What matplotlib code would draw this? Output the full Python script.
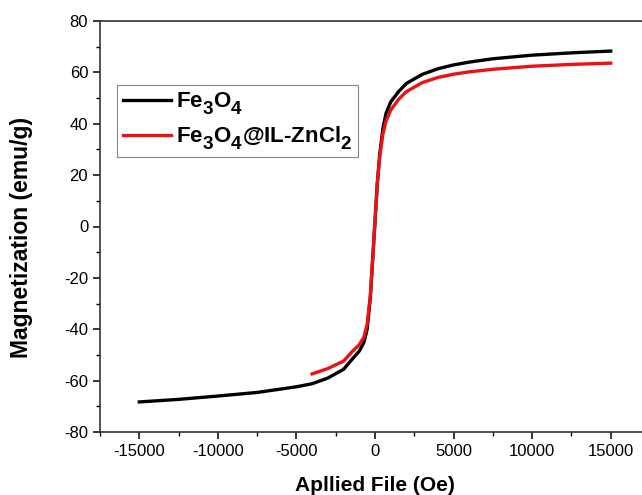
import matplotlib
matplotlib.use('Agg')
import matplotlib.pyplot as plt
import matplotlib._mathtext as mathtext_internal
from matplotlib.ticker import MultipleLocator

plt.rcParams['font.family'] = ['Liberation Sans', 'DejaVu Sans']
plt.rcParams['axes.unicode_minus'] = False
plt.rcParams['mathtext.fontset'] = 'custom'
plt.rcParams['mathtext.bf'] = 'Liberation Sans:bold'
plt.rcParams['mathtext.rm'] = 'Liberation Sans:bold'
plt.rcParams['mathtext.default'] = 'bf'
# subscripts in the original are nearly full size and sit low
mathtext_internal.SHRINK_FACTOR = 0.85
mathtext_internal.FontConstantsBase.sub1 = 0.6

## Data

h_fe3o4 = [-15000, -12500, -10000, -7500, -5000, -4000, -3000, -2000, -1500, -1000,
           -700, -500, -300, -150, 0, 150, 300, 500, 700, 1000,
           1500, 2000, 3000, 4000, 5000, 6000, 7500, 10000, 12500, 15000]
m_fe3o4 = [-68.3, -67.3, -66.0, -64.6, -62.4, -61.2, -59.0, -55.6, -52.0, -48.5,
           -45.0, -40.0, -28.0, -13.0, 2.0, 17.0, 28.0, 38.0, 44.0, 48.5,
           52.5, 55.7, 59.2, 61.4, 62.9, 64.0, 65.3, 66.7, 67.6, 68.3]

h_zncl = [-4000, -3000, -2000, -1500, -1000, -700, -500, -300, -150, 0,
          150, 300, 500, 700, 1000, 1500, 2000, 3000, 4000, 5000,
          6000, 7500, 10000, 12500, 15000]
m_zncl = [-57.4, -55.3, -52.4, -49.0, -46.0, -43.0, -38.0, -27.0, -13.0, 2.0,
          17.0, 27.0, 36.0, 41.0, 45.3, 49.5, 52.5, 56.0, 58.0, 59.3,
          60.2, 61.2, 62.4, 63.1, 63.6]

x_ticks = [-15000, -10000, -5000, 0, 5000, 10000, 15000]
y_ticks = [-80, -60, -40, -20, 0, 20, 40, 60, 80]

## Plot

fig = plt.figure(figsize=(6.42, 4.95), dpi=100)
ax = fig.add_axes([100 / 642, 63 / 495, 550 / 642, 411 / 495])

ax.plot(h_fe3o4, m_fe3o4, color='black', lw=2.4, label=r'Fe$_3$O$_4$')
ax.plot(h_zncl, m_zncl, color='#ee1111', lw=2.4, label=r'Fe$_3$O$_4$@IL-ZnCl$_2$')

ax.set_xlim(-17500, 17500)
ax.set_ylim(-80, 80)
ax.set_xticks(x_ticks)
ax.set_yticks(y_ticks)
ax.xaxis.set_minor_locator(MultipleLocator(2500))
ax.yaxis.set_minor_locator(MultipleLocator(10))
ax.tick_params(which='major', direction='out', length=5, width=1.1, labelsize=12)
ax.tick_params(which='minor', direction='out', length=3, width=1.0)

for side in ['left', 'bottom', 'top']:
    ax.spines[side].set_linewidth(1.2)
    ax.spines[side].set_color('#333333')
ax.spines['right'].set_visible(False)

ax.set_xlabel('Apllied File (Oe)', fontsize=15, fontweight='bold')
ax.set_ylabel('Magnetization (emu/g)', fontsize=16.5, fontweight='bold')
ax.xaxis.set_label_coords(0.5, -0.107)
ax.yaxis.set_label_coords(-0.122, 0.474)

leg = ax.legend(loc='upper left', bbox_to_anchor=(0.031, 0.844), borderaxespad=0,
                prop={'size': 16, 'weight': 'bold'}, fancybox=False, framealpha=1,
                handlelength=2.2, handletextpad=0.2, labelspacing=0.35, borderpad=0.25)
leg.get_frame().set_edgecolor('#888888')
leg.get_frame().set_linewidth(0.8)

fig.savefig('out.png', dpi=100)
